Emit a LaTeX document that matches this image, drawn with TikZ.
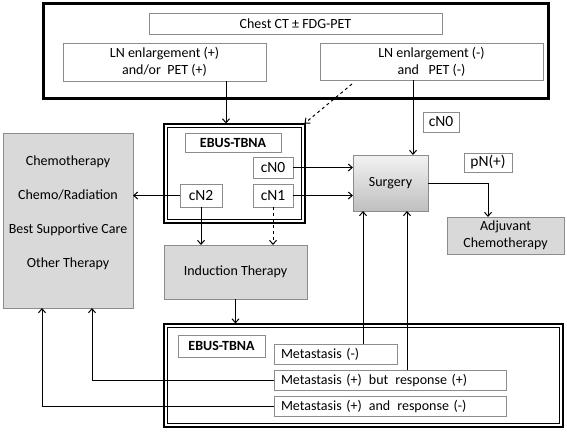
\documentclass[tikz,border=0pt]{standalone}
\usepackage{fontspec}
\setmainfont{Carlito}
\usetikzlibrary{arrows.meta,calc}
\definecolor{boxgray}{HTML}{8C8C8C}
\definecolor{fillgray}{HTML}{D9D9D9}
\begin{document}
\begin{tikzpicture}[x=1pt,y=-1pt,
  font=\fontsize{14}{17}\selectfont,
  box/.style={draw=boxgray, line width=0.8pt, fill=white, inner sep=2pt, outer sep=0pt, align=center},
  gbox/.style={box, fill=fillgray},
  metbox/.style={box, align=left, inner xsep=7pt},
  frame/.style={draw=black, line width=2.6pt, inner sep=0pt, outer sep=0pt},
  dframe/.style={draw=black, line width=2pt, inner sep=0pt, outer sep=0pt},
  innerframe/.style={draw=black, line width=0.8pt},
  arr/.style={draw=black, line width=1pt, -{Straight Barb[length=4pt,width=7pt]}},
]
\fill[white] (0,0) rectangle (567,432);
\useasboundingbox (0,0) rectangle (567,432);

% frames
\node[frame, minimum width=505pt, minimum height=95pt] (top) at (296,51) {};
\node[dframe, minimum width=141pt, minimum height=99pt] (ebus1) at (234,173) {};
\draw[innerframe] ($(ebus1.north west)+(3.5,3.5)$) rectangle ($(ebus1.south east)+(-3.5,-3.5)$);
\node[dframe, minimum width=399pt, minimum height=103pt] (ebus2) at (363,375) {};
\draw[innerframe] ($(ebus2.north west)+(3.5,3.5)$) rectangle ($(ebus2.south east)+(-3.5,-3.5)$);

% top boxes
\node[box, minimum width=293pt, minimum height=21pt] (ct) at (295.5,23.5) {Chest CT ± FDG-PET};
\node[box, minimum width=203pt, minimum height=38pt] (lnp) at (164.5,62) {LN enlargement (+)\\and/or~ PET (+)};
\node[box, minimum width=223pt, minimum height=37pt] (lnn) at (431.5,61.5) {LN enlargement (-)\\and~~ PET (-)};

% EBUS 1
\node[box, minimum width=96pt, minimum height=19pt, font=\fontsize{14}{17}\selectfont\bfseries] (ebl1) at (233,142.5) {EBUS-TBNA};
\node[box, minimum width=40pt, minimum height=21pt, font=\fontsize{15.5}{17}\selectfont] (c0) at (273,167.5) {cN0};
\node[box, minimum width=40pt, minimum height=23pt, font=\fontsize{15.5}{17}\selectfont] (c1) at (273,195.5) {cN1};
\node[box, minimum width=42pt, minimum height=23pt, font=\fontsize{15.5}{17}\selectfont] (c2) at (201,195.5) {cN2};
\node[box, minimum width=36pt, minimum height=20pt, font=\fontsize{15.5}{17}\selectfont] (cn0) at (441,122) {cN0};

% therapy
\node[gbox, minimum width=130pt, minimum height=175pt] (ther) at (68,220.5) {};
\node[align=center, inner sep=0pt, font=\fontsize{14}{34}\selectfont] (thertext) at (68,213)
  {Chemotherapy\\Chemo/Radiation\\Best Supportive Care\\Other Therapy};

\node[gbox, minimum width=143pt, minimum height=54pt] (ind) at (235.5,272) {Induction Therapy};
\node[box, minimum width=75pt, minimum height=56pt, top color=white!95!black, bottom color=black!25] (surg) at (390.5,183) {Surgery};
\node[box, minimum width=48pt, minimum height=19pt, font=\fontsize{15.5}{17}\selectfont] (pn) at (488,162.5) {pN(+)};
\node[gbox, minimum width=117pt, minimum height=37pt] (adj) at (505.5,235.5) {Adjuvant\\Chemotherapy};

% EBUS 2
\node[box, minimum width=87pt, minimum height=22pt, font=\fontsize{14}{17}\selectfont\bfseries] (ebl2) at (221.5,346) {EBUS-TBNA};
\node[metbox, text width=109pt, minimum height=20pt] (m0) at (335.5,354) {Metastasis (-)};
\node[metbox, text width=218pt, minimum height=20pt] (mpb) at (390,380) {Metastasis (+)\, but\, response (+)};
\node[metbox, text width=218pt, minimum height=20pt] (mpa) at (390,406) {Metastasis (+)\, and\, response (-)};

% connectors
\draw[arr] (lnp.south -| 226,0) -- (ebus1.north -| 226,0);
\draw[arr, dashed] ($(lnn.south -| 352,0)+(0,4)$) -- (ebus1.north east);
\draw[arr] (lnn.south -| 413,0) -- (surg.north -| 413,0);
\draw[arr] (c0.east) -- (c0.east -| surg.west);
\draw[arr] (c1.east) -- (c1.east -| surg.west);
\draw[arr] (c2.west) -- (c2.west -| ther.east);
\draw[arr] (c2.south) -- (c2.south |- ind.north);
\draw[arr, dashed] (c1.south) -- (c1.south |- ind.north);
\draw[arr] (ind.south) -- (ind.south |- ebus2.north);
\draw[arr] (surg.east) -| (adj.north -| pn.south);
\draw[arr] (m0.north -| 363,0) -- (surg.south -| 363,0);
\draw[arr] (mpb.north -| 407,0) -- (surg.south -| 407,0);
\draw[arr] (mpb.west) -| (ther.south -| 92,0);
\draw[arr] (mpa.west) -| (ther.south -| 42,0);
\end{tikzpicture}
\end{document}
